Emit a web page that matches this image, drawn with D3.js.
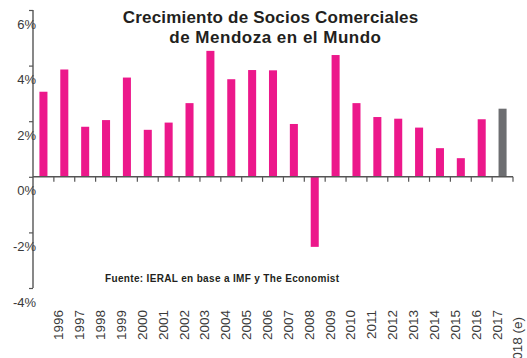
<!DOCTYPE html>
<html>
<head>
<meta charset="utf-8">
<script src="https://cdn.jsdelivr.net/npm/d3@7"></script>
<style>
  html, body { margin: 0; padding: 0; background: #fff; }
  svg { display: block; font-family: "Liberation Sans", Arial, sans-serif; }
</style>
</head>
<body>
<svg id="chart" width="527" height="358"></svg>
<script>
// Annual growth of Mendoza's trade partners (%), 2018 is an estimate
const years = ["1996","1997","1998","1999","2000","2001","2002","2003","2004","2005","2006",
               "2007","2008","2009","2010","2011","2012","2013","2014","2015","2016","2017","2018 (e)"];
const growth = [3.06, 3.86, 1.80, 2.04, 3.57, 1.69, 1.95, 2.65, 4.53, 3.51, 3.84,
                3.83, 1.90, -2.52, 4.38, 2.65, 2.15, 2.09, 1.77, 1.03, 0.67, 2.07, 2.45];
const estimated = [false,false,false,false,false,false,false,false,false,false,false,
                   false,false,false,false,false,false,false,false,false,false,false,true];
const yTicks = [-4, -2, 0, 2, 4, 6];
const titleLines = ["Crecimiento de Socios Comerciales", "de Mendoza en el Mundo"];
const sourceNote = "Fuente: IERAL en base a IMF y The Economist";

const svg = d3.select("#chart");
const plotLeft = 33, plotRight = 513, plotTop = 10, plotBottom = 288;
const axisColor = "#555555";
const textColor = "#3a3a3a";

const x = d3.scaleBand().domain(d3.range(years.length)).range([plotLeft, plotRight]).padding(0);
const y = d3.scaleLinear().domain([-4, 6]).range([plotBottom, plotTop]);

// bars
const barW = x.bandwidth() * 0.385;
svg.append("g").selectAll("rect")
  .data(growth)
  .join("rect")
  .attr("x", (d, i) => x(i) + x.bandwidth() / 2 - barW / 2)
  .attr("y", d => y(Math.max(d, 0)))
  .attr("width", barW)
  .attr("height", d => Math.abs(y(d) - y(0)))
  .attr("fill", (d, i) => estimated[i] ? "#6d6e71" : "#ec188b");

// y axis
const yAxis = svg.append("g")
  .attr("transform", `translate(${plotLeft},0)`)
  .call(d3.axisLeft(y).tickValues(yTicks).tickSize(4).tickFormat(d => d + "%"));
yAxis.select(".domain").attr("stroke", axisColor).attr("stroke-width", 1.4)
  .attr("d", `M0,${plotTop}V${plotBottom}`);
yAxis.selectAll(".tick line").attr("stroke", axisColor).attr("stroke-width", 1.2);
yAxis.selectAll(".tick text")
  .attr("x", 3).attr("dy", "1.4em")
  .attr("fill", textColor)
  .style("font-size", "13px")
  .style("font-family", "'Liberation Sans', Arial, sans-serif");

// x axis along the zero line
const xg = svg.append("g");
xg.append("line")
  .attr("x1", plotLeft).attr("x2", plotRight)
  .attr("y1", y(0)).attr("y2", y(0))
  .attr("stroke", axisColor).attr("stroke-width", 1.4);
xg.selectAll("line.tk")
  .data(d3.range(1, years.length + 1))
  .join("line")
  .attr("class", "tk")
  .attr("x1", i => i < years.length ? x(i) : plotRight)
  .attr("x2", i => i < years.length ? x(i) : plotRight)
  .attr("y1", y(0)).attr("y2", y(0) + 5)
  .attr("stroke", axisColor).attr("stroke-width", 1.2);

// rotated year labels
svg.append("g").selectAll("text")
  .data(years)
  .join("text")
  .attr("transform", (d, i) => `translate(${x(i) + x.bandwidth() / 2 + 15},${estimated[i] ? 317 : 310}) rotate(-90)`)
  .attr("text-anchor", "end")
  .attr("dy", "0.36em")
  .attr("fill", textColor)
  .style("font-size", "13.5px")
  .text(d => d);

// title, two centred lines
const titleSpans = [{ x: 122.7, w: 295.5 }, { x: 169.3, w: 211.7 }];
svg.append("g").selectAll("text")
  .data(titleLines)
  .join("text")
  .attr("x", (d, i) => titleSpans[i].x)
  .attr("y", (d, i) => 22.6 + i * 20.7)
  .attr("textLength", (d, i) => titleSpans[i].w)
  .attr("lengthAdjust", "spacing")
  .attr("fill", "#231f20")
  .style("font-size", "17px")
  .style("font-weight", "bold")
  .text(d => d);

// source note
svg.append("text")
  .attr("x", 105).attr("y", 281.5)
  .attr("textLength", 234)
  .attr("lengthAdjust", "spacing")
  .attr("fill", "#231f20")
  .style("font-size", "10px")
  .style("font-weight", "bold")
  .text(sourceNote);
</script>
</body>
</html>
